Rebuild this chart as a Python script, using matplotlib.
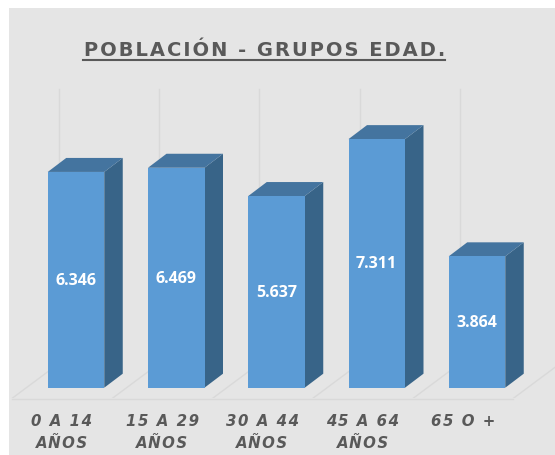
import matplotlib
matplotlib.use("Agg")
import matplotlib.pyplot as plt
from matplotlib.lines import Line2D
from matplotlib.patches import Polygon, Rectangle

title = "POBLACIÓN - GRUPOS EDAD."
categories = ["0 A 14\nAÑOS", "15 A 29\nAÑOS", "30 A 44\nAÑOS", "45 A 64\nAÑOS", "65 O +"]
values = [6346, 6469, 5637, 7311, 3864]

W, H = 555, 456
BG = "#E5E5E5"
FRONT = "#5B9BD5"
TOP = "#44749F"
SIDE = "#386488"
GRID = "#D9D9D9"
TEXT = "#595959"

# pixel helpers, axes spans x 9..555 and y 60..399 from the top
PX_PER_CAT = 100.25
PX_PER_UNIT = 0.034
ax_left, ax_right, ax_top, ax_bottom = 9, 555, 60, 399
base_px = 388.7


def spaced(s):
    # letter spacing with hair spaces, one line at a time
    return "\n".join("\u200a".join(line) for line in s.split("\n"))


fig = plt.figure(figsize=(W / 100, H / 100), dpi=100, facecolor="white")
fig.add_artist(Rectangle((9 / W, 0), (W - 9) / W, (H - 9) / H, transform=fig.transFigure,
                         facecolor=BG, edgecolor="none", zorder=-10))

ax = fig.add_axes([ax_left / W, (H - ax_bottom) / H, (ax_right - ax_left) / W, (ax_bottom - ax_top) / H])
ax.patch.set_alpha(0)
ax.set_xlim((ax_left - 62) / PX_PER_CAT, (ax_right - 62) / PX_PER_CAT)
ax.set_ylim((base_px - ax_bottom) / PX_PER_UNIT, (base_px - ax_top) / PX_PER_UNIT)
for s in ax.spines.values():
    s.set_visible(False)
ax.set_yticks([])

ax.set_xticks(range(len(categories)))
ax.set_xticklabels([spaced(c) for c in categories], fontsize=10.8, fontstyle="italic", fontweight="bold",
                   color=TEXT, linespacing=1.55)
ax.tick_params(axis="x", length=0, pad=11)

# floor and back gridlines
floor_y = (base_px - 399.5) / PX_PER_UNIT
back_y = (base_px - 364.5) / PX_PER_UNIT
depth_x = 47 / PX_PER_CAT
grid_top = (base_px - 90) / PX_PER_UNIT
ax.plot([-0.5, len(categories) - 0.5], [floor_y, floor_y], color=GRID, lw=1, zorder=1, clip_on=False)
for i in range(len(categories) + 1):
    ax.plot([i - 0.5, i - 0.5 + depth_x], [floor_y, back_y], color=GRID, lw=1, zorder=1)
    ax.plot([i - 0.5 + depth_x] * 2, [back_y, grid_top], color=GRID, lw=1, zorder=1)

# 3D-looking columns
bar_w = 56.5 / PX_PER_CAT
bar_off = 14 / PX_PER_CAT
dx = 18.5 / PX_PER_CAT
dy = 14 / PX_PER_UNIT
for i, v in enumerate(values):
    x0 = i + bar_off - bar_w / 2
    x1 = x0 + bar_w
    ax.add_patch(Polygon([(x1, 0), (x1 + dx, dy), (x1 + dx, v + dy), (x1, v)], facecolor=SIDE, edgecolor="none", zorder=3))
    ax.add_patch(Polygon([(x0, v), (x0 + dx, v + dy), (x1 + dx, v + dy), (x1, v)], facecolor=TOP, edgecolor="none", zorder=3))
    ax.bar(x0 + bar_w / 2, v, width=bar_w, color=FRONT, zorder=4)
    ax.text(x0 + bar_w / 2, v / 2, f"{v:,}".replace(",", "."), color="white", fontsize=11.5,
            fontweight="bold", ha="center", va="center", zorder=5, family="Open Sans")

fig.text(264.5 / W, 1 - 50 / H, spaced(title), fontsize=14, fontweight="bold", color=TEXT, ha="center", va="center")
fig.add_artist(Line2D([83 / W, 445 / W], [1 - 61 / H] * 2, color=TEXT, lw=1.5))

fig.savefig("out.png", dpi=100)
